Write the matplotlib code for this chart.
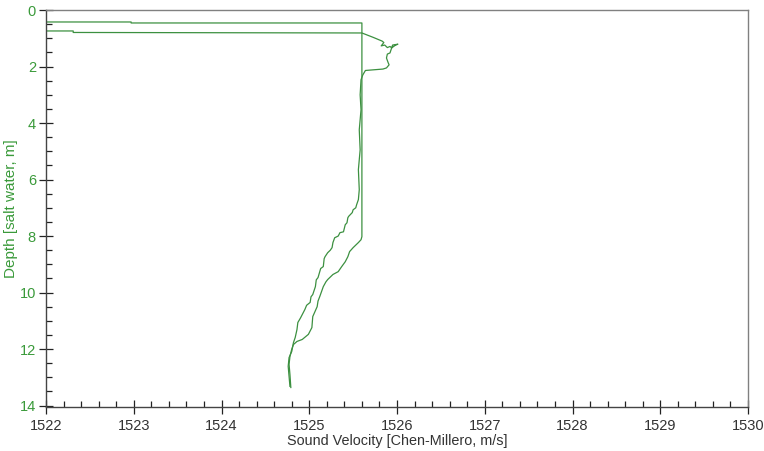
import matplotlib
matplotlib.use('Agg')
import matplotlib.pyplot as plt
from matplotlib.ticker import MultipleLocator

plt.rcParams['font.family'] = ['Liberation Sans', 'DejaVu Sans']

# cast A: shallow start, straight column, right branch of lower loop
cast_a_velocity = [1521.90, 1522.97, 1522.97, 1525.60, 1525.60, 1525.59, 1525.56,
                   1525.50, 1525.46, 1525.44, 1525.41, 1525.37, 1525.33, 1525.27,
                   1525.21, 1525.19, 1525.16, 1525.12, 1525.10, 1525.09, 1525.04,
                   1525.03, 1524.99, 1524.92, 1524.86, 1524.82, 1524.80, 1524.78,
                   1524.77, 1524.78, 1524.79]
cast_a_depth = [0.424, 0.424, 0.459, 0.459, 8.02, 8.13, 8.23,
                8.41, 8.55, 8.73, 8.91, 9.08, 9.26, 9.36,
                9.54, 9.62, 9.79, 10.14, 10.30, 10.50, 10.85,
                11.24, 11.48, 11.66, 11.73, 11.84, 12.01, 12.26,
                12.54, 12.90, 13.36]

# cast B: loop near the surface, wiggly column, left branch of lower loop
cast_b_velocity = [1521.90, 1522.31, 1522.31, 1525.60, 1525.73, 1525.83, 1525.85,
                   1525.82, 1525.86, 1525.89, 1525.92, 1525.94, 1525.98, 1526.01,
                   1525.95, 1525.92, 1525.89, 1525.88, 1525.90, 1525.91, 1525.88,
                   1525.84, 1525.64, 1525.61, 1525.59, 1525.58, 1525.59, 1525.57,
                   1525.58, 1525.56, 1525.57, 1525.56, 1525.54, 1525.53, 1525.50,
                   1525.49, 1525.45, 1525.44, 1525.43, 1525.41, 1525.39, 1525.35,
                   1525.33, 1525.29, 1525.27, 1525.26, 1525.24, 1525.21, 1525.18,
                   1525.17, 1525.16, 1525.13, 1525.10, 1525.08, 1525.07, 1525.04,
                   1525.02, 1525.01, 1524.97, 1524.95, 1524.92, 1524.90, 1524.87,
                   1524.86, 1524.84, 1524.82, 1524.80, 1524.77, 1524.76, 1524.77,
                   1524.78]
cast_b_depth = [0.742, 0.742, 0.795, 0.813, 0.97, 1.10, 1.15,
                1.27, 1.24, 1.33, 1.29, 1.34, 1.25, 1.21,
                1.24, 1.52, 1.56, 1.70, 1.87, 1.94, 2.05,
                2.09, 2.14, 2.30, 2.47, 3.00, 3.53, 4.24,
                4.95, 5.65, 6.36, 6.71, 6.89, 7.00, 7.07,
                7.17, 7.30, 7.35, 7.53, 7.60, 7.85, 7.88,
                8.00, 8.06, 8.23, 8.41, 8.50, 8.59, 8.73,
                8.80, 9.08, 9.15, 9.47, 9.55, 9.79, 10.07,
                10.15, 10.35, 10.45, 10.60, 10.78, 10.90, 11.06,
                11.31, 11.59, 11.77, 12.09, 12.30, 12.61, 12.97,
                13.32]

green = '#3c9040'
label_green = '#3a9a3a'
dark = '#333333'

fig = plt.figure(figsize=(7.64, 4.51), dpi=100)
ax = fig.add_axes([46 / 764, 1 - 407 / 451, 702 / 764, 397 / 451])

ax.plot(cast_a_velocity, cast_a_depth, color=green, linewidth=0.9)
ax.plot(cast_b_velocity, cast_b_depth, color=green, linewidth=0.9)

ax.set_xlim(1522, 1530)
ax.set_ylim(14.05, 0)

ax.xaxis.set_major_locator(MultipleLocator(1))
ax.xaxis.set_minor_locator(MultipleLocator(0.2))
ax.yaxis.set_major_locator(MultipleLocator(2))
ax.yaxis.set_minor_locator(MultipleLocator(0.5))

ax.tick_params(which='major', direction='inout', length=9.4, width=0.9, color='#222222')
ax.tick_params(which='minor', direction='in', length=4.3, width=0.9, color='#222222')
ax.tick_params(axis='x', which='major', labelsize=10.5, labelcolor=dark, pad=4)
ax.tick_params(axis='y', which='major', labelsize=10.5, labelcolor=label_green, pad=2.5)

for side in ['left', 'bottom']:
    ax.spines[side].set_color('#444444')
    ax.spines[side].set_linewidth(1.0)
for side in ['top', 'right']:
    ax.spines[side].set_color('#808080')
    ax.spines[side].set_linewidth(1.0)

ax.set_xlabel('Sound Velocity [Chen-Millero, m/s]', fontsize=10.4, color=dark, labelpad=1)
ax.set_ylabel('Depth [salt water, m]', fontsize=11, color=label_green, labelpad=1)

fig.savefig('out.png', dpi=100)
